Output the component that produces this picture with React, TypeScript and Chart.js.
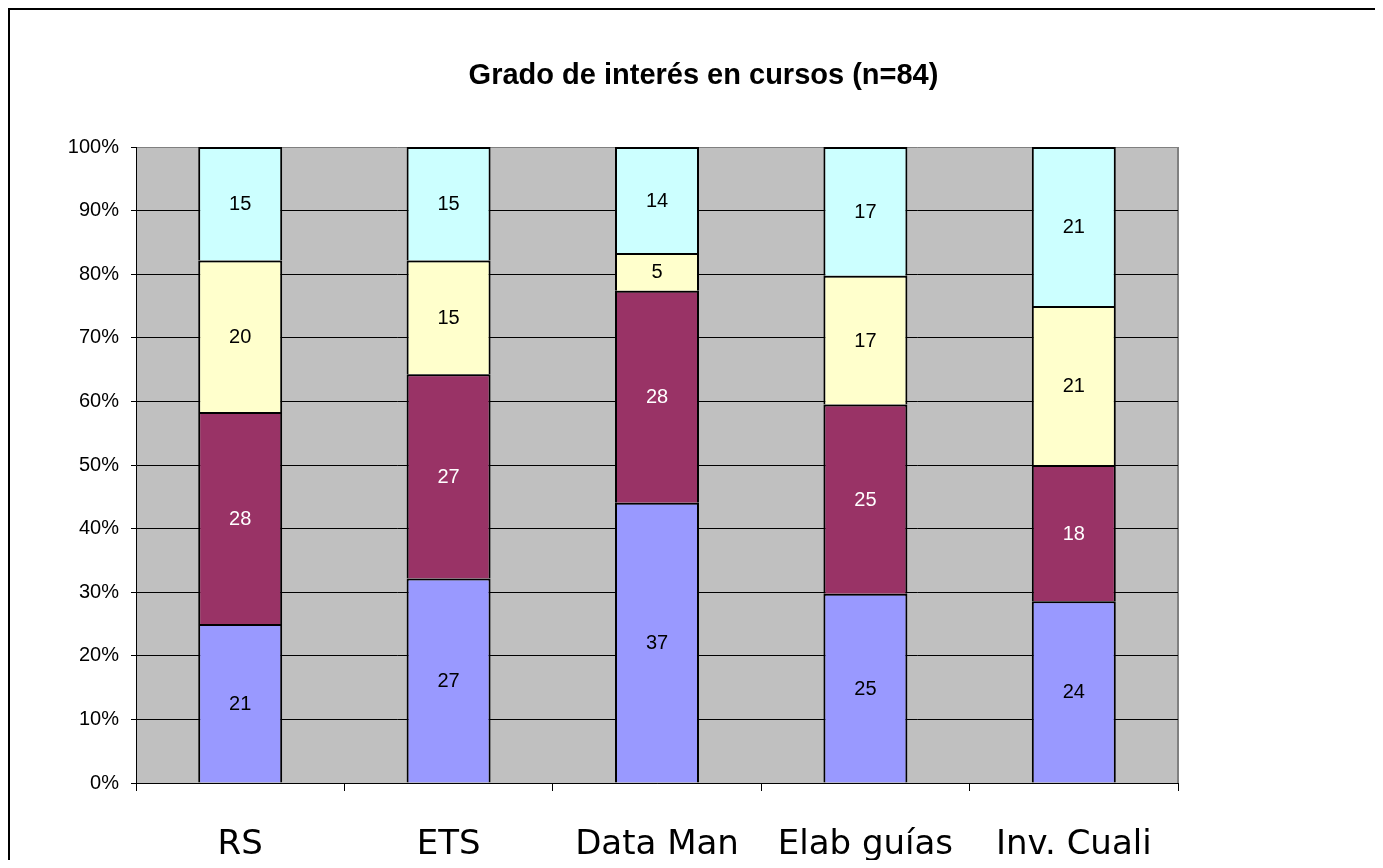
import React, { useEffect, useRef } from "react";
import { Chart, registerables } from "chart.js";

Chart.register(...registerables);

const categories = ["RS", "ETS", "Data Man", "Elab guías", "Inv. Cuali"];
const seriesBlue = [21, 27, 37, 25, 24];
const seriesMaroon = [28, 27, 28, 25, 18];
const seriesYellow = [20, 15, 5, 17, 21];
const seriesCyan = [15, 15, 14, 17, 21];
const yTicks = [0, 10, 20, 30, 40, 50, 60, 70, 80, 90, 100];
const titleText = "Grado de interés en cursos (n=84)";

const seriesList = [
  { name: "A", values: seriesBlue, color: "#9999FF", label: "#000000" },
  { name: "B", values: seriesMaroon, color: "#993366", label: "#FFFFFF" },
  { name: "C", values: seriesYellow, color: "#FFFFCC", label: "#000000" },
  { name: "D", values: seriesCyan, color: "#CCFFFF", label: "#000000" },
];

const totals = categories.map((_, i) =>
  seriesList.reduce((s, ser) => s + ser.values[i], 0)
);

const bgPlugin = {
  id: "plotBg",
  beforeDraw(chart: any) {
    const { ctx, chartArea } = chart;
    ctx.save();
    ctx.fillStyle = "#C0C0C0";
    ctx.fillRect(chartArea.left, chartArea.top, chartArea.right - chartArea.left, chartArea.bottom - chartArea.top);
    ctx.strokeStyle = "#808080";
    ctx.lineWidth = 2;
    ctx.beginPath();
    ctx.moveTo(chartArea.right, chartArea.top);
    ctx.lineTo(chartArea.right, chartArea.bottom);
    ctx.stroke();
    ctx.restore();
  },
};

const labelsPlugin = {
  id: "segLabels",
  afterDatasetsDraw(chart: any) {
    const { ctx } = chart;
    ctx.save();
    ctx.font = '20px "Liberation Sans", Arial, sans-serif';
    ctx.textAlign = "center";
    ctx.textBaseline = "middle";
    chart.data.datasets.forEach((ds: any, di: number) => {
      const meta = chart.getDatasetMeta(di);
      meta.data.forEach((el: any, i: number) => {
        const y = (el.y + el.base) / 2;
        ctx.fillStyle = seriesList[di].label;
        ctx.fillText(String(seriesList[di].values[i]), el.x, y + 1);
      });
    });
    ctx.restore();
  },
};

const titlePlugin = {
  id: "customTitle",
  afterDraw(chart: any) {
    const { ctx } = chart;
    ctx.save();
    ctx.font = 'bold 29px "Liberation Sans", Arial, sans-serif';
    ctx.fillStyle = "#000";
    ctx.textAlign = "center";
    ctx.textBaseline = "alphabetic";
    ctx.fillText(titleText, 693.5, 73.5);
    ctx.restore();
  },
};

export default function App() {
  const ref = useRef<HTMLCanvasElement | null>(null);
  useEffect(() => {
    if (!ref.current) return;
    const chart = new Chart(ref.current, {
      type: "bar",
      data: {
        labels: categories,
        datasets: seriesList.map((s) => ({
          label: s.name,
          data: s.values.map((v, i) => (v / totals[i]) * 100),
          backgroundColor: s.color,
          borderColor: "#000000",
          borderWidth: 2,
          barPercentage: 0.403,
          categoryPercentage: 1,
        })),
      },
      options: {
        animation: false,
        responsive: true,
        maintainAspectRatio: false,
        layout: { padding: { top: 137, right: 197, left: 0, bottom: 0 } },
        plugins: {
          legend: { display: false },
          tooltip: { enabled: false },
          title: { display: false },
        },
        scales: {
          x: {
            stacked: true,
            offset: true,
            grid: {
              offset: true,
              drawOnChartArea: false,
              drawTicks: true,
              tickLength: 8,
              color: "#000",
            },
            border: { display: true, color: "#000", width: 1 },
            ticks: {
              color: "#000",
              padding: 34,
              font: { family: '"DejaVu Sans", sans-serif', size: 34 },
              maxRotation: 0,
              autoSkip: false,
            },
            afterFit(scale: any) {
              scale.height = 77;
            },
          },
          y: {
            stacked: true,
            min: 0,
            max: 100,
            afterBuildTicks(scale: any) {
              scale.ticks = yTicks.map((v) => ({ value: v }));
            },
            grid: {
              color: (c: any) => (c.tick && c.tick.value === 100 ? "#808080" : "#000"),
              tickColor: "#000",
              tickLength: 5,
              lineWidth: 1,
            },
            border: { display: true, color: "#000", width: 1 },
            ticks: {
              color: "#000",
              padding: 12,
              font: { family: '"Liberation Sans", Arial, sans-serif', size: 20 },
              callback: (v: any) => v + "%",
            },
            afterFit(scale: any) {
              scale.width = 126;
            },
          },
        },
      },
      plugins: [bgPlugin, labelsPlugin, titlePlugin],
    });
    return () => chart.destroy();
  }, []);

  return (
    <div
      style={{
        width: 1367,
        height: 852,
        boxSizing: "border-box",
        borderTop: "2px solid #000",
        borderLeft: "2px solid #000",
        background: "#fff",
        position: "relative",
      }}
    >
      <div style={{ position: "relative", width: 1365, height: 850 }}>
        <canvas ref={ref} />
      </div>
    </div>
  );
}
